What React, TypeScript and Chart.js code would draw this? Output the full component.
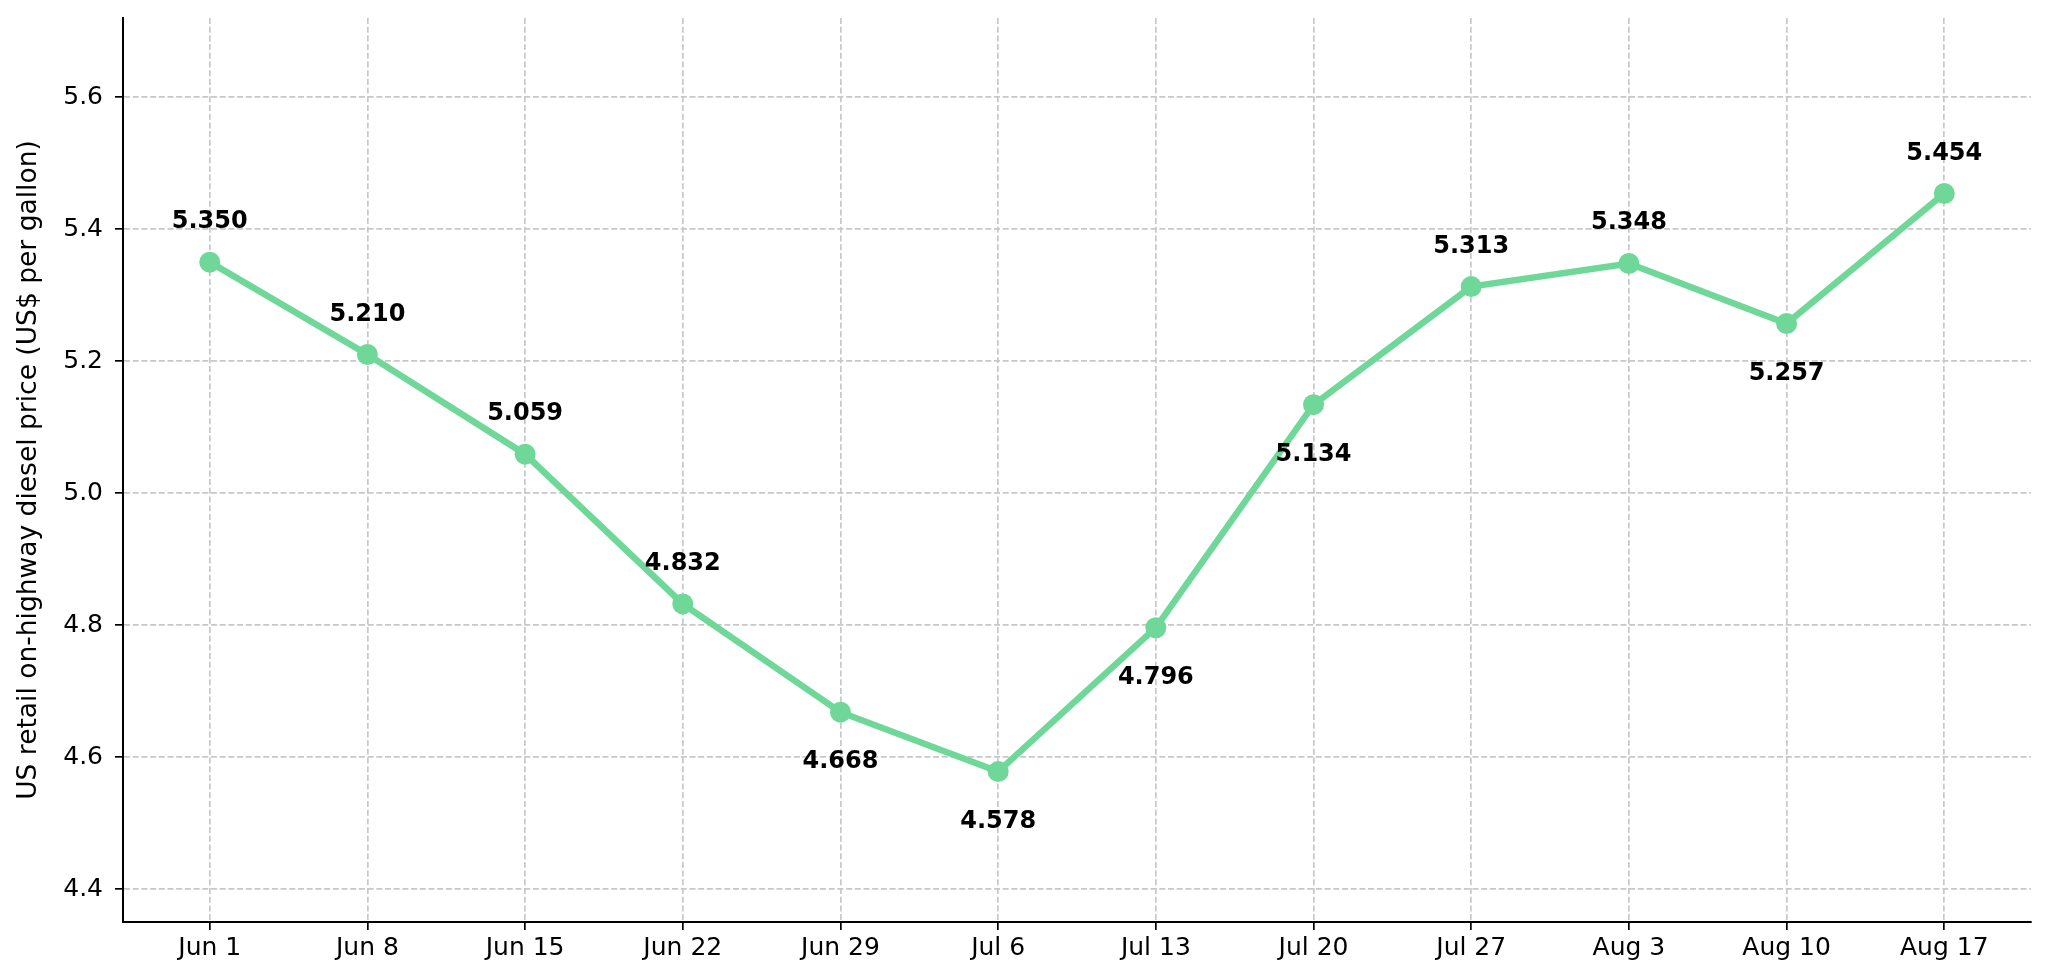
import { useEffect, useRef } from 'react';
import { Chart, registerables } from 'chart.js';

Chart.register(...registerables);

const weeks = ['Jun 1', 'Jun 8', 'Jun 15', 'Jun 22', 'Jun 29', 'Jul 6', 'Jul 13', 'Jul 20', 'Jul 27', 'Aug 3', 'Aug 10', 'Aug 17'];
const prices = [5.350, 5.210, 5.059, 4.832, 4.668, 4.578, 4.796, 5.134, 5.313, 5.348, 5.257, 5.454];
const yTicks = [4.4, 4.6, 4.8, 5.0, 5.2, 5.4, 5.6];
// weeks whose value label sits under the marker
const labelsBelow = ['Jun 29', 'Jul 6', 'Jul 13', 'Jul 20', 'Aug 10'];

const FONT = 'DejaVu Sans';
const LINE = '#6fd899';
const GRID = '#c8c8c8';

const valueLabels = {
  id: 'valueLabels',
  afterDatasetsDraw(chart: Chart) {
    const ctx = chart.ctx;
    const meta = chart.getDatasetMeta(0);
    ctx.save();
    ctx.font = `bold 24px "${FONT}"`;
    ctx.fillStyle = '#000';
    ctx.textAlign = 'center';
    ctx.textBaseline = 'alphabetic';
    meta.data.forEach((pt, i) => {
      const below = labelsBelow.includes(weeks[i]);
      const y = below ? pt.y + 56 : pt.y - 34;
      ctx.fillText(prices[i].toFixed(3), pt.x, y);
    });
    ctx.restore();
  },
};

const gridStyle = {
  color: GRID,
  lineWidth: 1.7,
  tickColor: '#000',
  tickWidth: 1.7,
  tickLength: 8,
  tickBorderDash: [],
};

export default function App() {
  const canvasRef = useRef<HTMLCanvasElement>(null);

  useEffect(() => {
    if (!canvasRef.current) return;
    Chart.defaults.font.family = FONT;
    Chart.defaults.color = '#000';

    const chart = new Chart(canvasRef.current, {
      type: 'line',
      data: {
        datasets: [
          {
            data: prices.map((p, i) => ({ x: i, y: p })),
            borderColor: LINE,
            backgroundColor: LINE,
            borderWidth: 6.5,
            pointRadius: 10.5,
            pointHoverRadius: 10.5,
            pointBorderWidth: 0,
            tension: 0,
          },
        ],
      },
      options: {
        animation: false,
        responsive: true,
        maintainAspectRatio: false,
        devicePixelRatio: 1,
        layout: { padding: { left: 0, right: 17, top: 18, bottom: 0 } },
        plugins: {
          legend: { display: false },
          tooltip: { enabled: false },
        },
        scales: {
          x: {
            type: 'linear',
            min: -0.55,
            max: 11.55,
            afterBuildTicks: (scale) => {
              scale.ticks = weeks.map((_, i) => ({ value: i }));
            },
            afterFit: (scale) => {
              scale.height = 58;
              scale.paddingLeft = 0;
              scale.paddingRight = 0;
            },
            ticks: {
              callback: (v) => weeks[Number(v)] ?? '',
              font: { size: 25 },
              padding: 3,
              maxRotation: 0,
              autoSkip: false,
            },
            grid: gridStyle,
            border: { display: true, color: '#000', width: 2, dash: [6, 2.7] },
          },
          y: {
            type: 'linear',
            min: 4.35,
            max: 5.72,
            afterBuildTicks: (scale) => {
              scale.ticks = yTicks.map((v) => ({ value: v }));
            },
            afterFit: (scale) => {
              scale.width = 123;
              scale.paddingTop = 0;
              scale.paddingBottom = 0;
            },
            ticks: {
              callback: (v) => Number(v).toFixed(1),
              font: { size: 25 },
              padding: 12,
            },
            title: {
              display: true,
              text: 'US retail on-highway diesel price (US$ per gallon)',
              font: { size: 26.5 },
              padding: { top: 13, bottom: 0 },
            },
            grid: gridStyle,
            border: { display: true, color: '#000', width: 2, dash: [6, 2.7] },
          },
        },
      },
      plugins: [valueLabels],
    });

    return () => chart.destroy();
  }, []);

  return (
    <div style={{ position: 'fixed', left: 0, top: 0, width: 2048, height: 980, background: '#fff' }}>
      <canvas ref={canvasRef}></canvas>
    </div>
  );
}
